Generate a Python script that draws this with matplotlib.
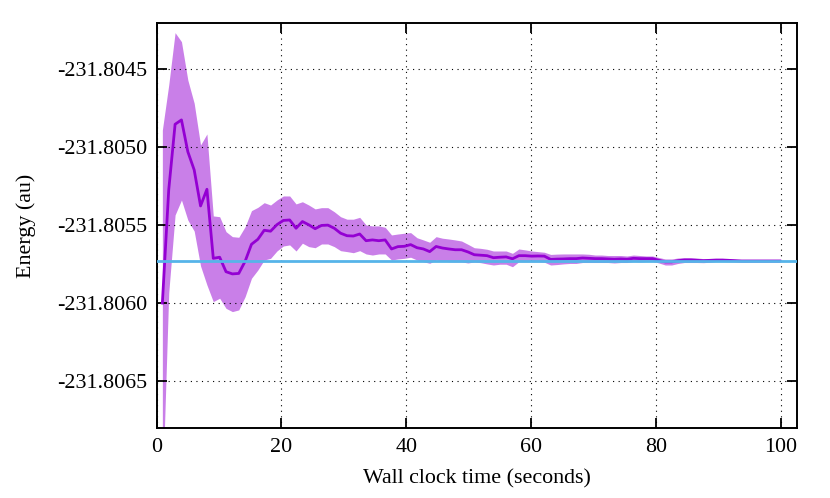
import matplotlib
matplotlib.use('Agg')
import matplotlib.pyplot as plt
from matplotlib.ticker import FormatStrFormatter

plt.rcParams['font.family'] = ['Liberation Serif', 'DejaVu Serif']
plt.rcParams['axes.unicode_minus'] = False

# sample times (s)
times = [
    0.92, 1.94, 2.96, 3.98, 5.00, 6.02, 7.04, 8.06, 9.08, 10.10,
    11.12, 12.14, 13.16, 14.18, 15.20, 16.22, 17.24, 18.26, 19.28, 20.30,
    21.32, 22.34, 23.36, 24.38, 25.40, 26.42, 27.44, 28.46, 29.48, 30.50,
    31.52, 32.54, 33.56, 34.58, 35.60, 36.62, 37.64, 38.66, 39.68, 40.70,
    41.72, 42.74, 43.76, 44.78, 45.80, 46.82, 47.84, 48.86, 49.88, 50.90,
    51.92, 52.94, 53.96, 54.98, 56.00, 57.02, 58.04, 59.06, 60.08, 61.10,
    62.12, 63.14, 64.16, 65.18, 66.20, 67.22, 68.24, 69.26, 70.28, 71.30,
    72.32, 73.34, 74.36, 75.38, 76.40, 77.42, 78.44, 79.46, 80.48, 81.50,
    82.52, 83.54, 84.56, 85.58, 86.60, 87.62, 88.64, 89.66, 90.68, 91.70,
    92.72, 93.74, 94.76, 95.78, 96.80, 97.82, 98.84, 99.86,
]

# running mean energy (au)
energy_mean = [
    -231.806000, -231.805274, -231.804853, -231.804825, -231.805029,
    -231.805146, -231.805377, -231.805270, -231.805713, -231.805706,
    -231.805799, -231.805813, -231.805810, -231.805732, -231.805623,
    -231.805591, -231.805533, -231.805539, -231.805497, -231.805470,
    -231.805467, -231.805520, -231.805477, -231.805498, -231.805523,
    -231.805502, -231.805500, -231.805520, -231.805552, -231.805568,
    -231.805570, -231.805557, -231.805600, -231.805595, -231.805600,
    -231.805595, -231.805653, -231.805638, -231.805636, -231.805625,
    -231.805645, -231.805653, -231.805670, -231.805637, -231.805647,
    -231.805653, -231.805658, -231.805658, -231.805672, -231.805690,
    -231.805693, -231.805696, -231.805709, -231.805706, -231.805704,
    -231.805716, -231.805696, -231.805696, -231.805699, -231.805698,
    -231.805699, -231.805720, -231.805718, -231.805717, -231.805715,
    -231.805715, -231.805711, -231.805713, -231.805715, -231.805715,
    -231.805717, -231.805719, -231.805717, -231.805719, -231.805713,
    -231.805715, -231.805715, -231.805715, -231.805726, -231.805736,
    -231.805736, -231.805728, -231.805724, -231.805724, -231.805726,
    -231.805728, -231.805726, -231.805724, -231.805724, -231.805726,
    -231.805728, -231.805730, -231.805730, -231.805730, -231.805730,
    -231.805730, -231.805730, -231.805730,
]

# error band edges
energy_upper = [
    -231.804890, -231.804601, -231.804265, -231.804323, -231.804569,
    -231.804718, -231.804986, -231.804915, -231.805441, -231.805446,
    -231.805542, -231.805574, -231.805578, -231.805510, -231.805407,
    -231.805386, -231.805356, -231.805371, -231.805339, -231.805313,
    -231.805313, -231.805364, -231.805350, -231.805371, -231.805396,
    -231.805388, -231.805388, -231.805414, -231.805446, -231.805462,
    -231.805462, -231.805450, -231.805499, -231.805505, -231.805505,
    -231.805514, -231.805563, -231.805557, -231.805552, -231.805548,
    -231.805581, -231.805595, -231.805610, -231.805574, -231.805584,
    -231.805589, -231.805595, -231.805602, -231.805623, -231.805645,
    -231.805649, -231.805655, -231.805666, -231.805666, -231.805666,
    -231.805681, -231.805653, -231.805659, -231.805666, -231.805670,
    -231.805674, -231.805688, -231.805686, -231.805685, -231.805685,
    -231.805685, -231.805685, -231.805687, -231.805692, -231.805692,
    -231.805695, -231.805695, -231.805695, -231.805698, -231.805692,
    -231.805695, -231.805698, -231.805698, -231.805708, -231.805717,
    -231.805717, -231.805711, -231.805708, -231.805708, -231.805711,
    -231.805715, -231.805714, -231.805714, -231.805714, -231.805717,
    -231.805720, -231.805724, -231.805724, -231.805724, -231.805724,
    -231.805724, -231.805724, -231.805724,
]

energy_lower = [
    -231.807225, -231.805935, -231.805435, -231.805339, -231.805467,
    -231.805538, -231.805762, -231.805884, -231.805991, -231.805969,
    -231.806034, -231.806055, -231.806044, -231.805959, -231.805841,
    -231.805788, -231.805724, -231.805713, -231.805666, -231.805634,
    -231.805627, -231.805666, -231.805616, -231.805638, -231.805645,
    -231.805621, -231.805621, -231.805638, -231.805664, -231.805670,
    -231.805677, -231.805664, -231.805685, -231.805692, -231.805685,
    -231.805685, -231.805724, -231.805717, -231.805713, -231.805706,
    -231.805724, -231.805735, -231.805745, -231.805724, -231.805730,
    -231.805735, -231.805736, -231.805736, -231.805743, -231.805736,
    -231.805741, -231.805749, -231.805756, -231.805751, -231.805751,
    -231.805767, -231.805735, -231.805735, -231.805735, -231.805735,
    -231.805738, -231.805756, -231.805753, -231.805749, -231.805746,
    -231.805746, -231.805740, -231.805740, -231.805740, -231.805740,
    -231.805740, -231.805743, -231.805740, -231.805740, -231.805733,
    -231.805736, -231.805733, -231.805733, -231.805743, -231.805756,
    -231.805756, -231.805746, -231.805740, -231.805740, -231.805740,
    -231.805741, -231.805738, -231.805733, -231.805733, -231.805735,
    -231.805736, -231.805736, -231.805736, -231.805736, -231.805736,
    -231.805736, -231.805736, -231.805736,
]

reference_energy = -231.80573

x_ticks = [0, 20, 40, 60, 80, 100]
y_ticks = [-231.8065, -231.8060, -231.8055, -231.8050, -231.8045]

fig = plt.figure(figsize=(8.3, 4.98), dpi=100)
ax = fig.add_axes([0.1887, 0.1400, 0.7712, 0.8145])

ax.fill_between(times, energy_lower, energy_upper, color='#9400d3', alpha=0.5, lw=0, zorder=1)
ax.plot(times, energy_mean, color='#9400d3', lw=2.0, zorder=3)
ax.axhline(reference_energy, color='#56b4e9', lw=2.0, zorder=4)

ax.set_xlim(0, 102.56)
ax.set_ylim(-231.8068035, -231.804201)
ax.set_xticks(x_ticks)
ax.set_yticks(y_ticks)
ax.yaxis.set_major_formatter(FormatStrFormatter('%.4f'))

ax.set_axisbelow('line')
ax.grid(True, color='black', lw=0.8, linestyle=(0, (1, 4)))

for s in ax.spines.values():
    s.set_linewidth(1.4)
ax.tick_params(direction='in', length=7, width=1.3, top=True, right=True,
               labelsize=15.8, pad=7)
ax.tick_params(axis='y', pad=7)

ax.set_xlabel('Wall clock time (seconds)', fontsize=15.8, labelpad=9)
ax.set_ylabel('Energy (au)', fontsize=15.8, labelpad=15)

fig.savefig('out.png', dpi=100)
